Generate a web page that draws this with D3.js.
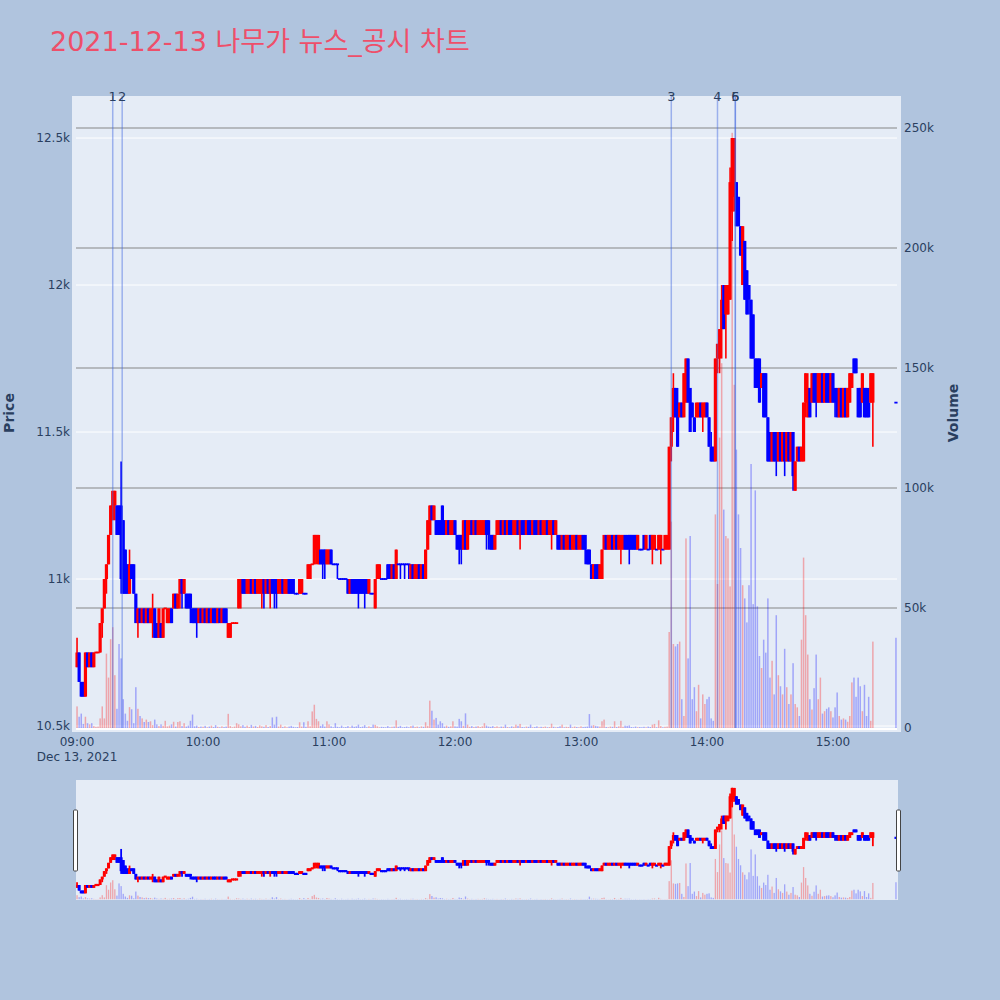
<!DOCTYPE html>
<html><head><meta charset="utf-8">
<script src="https://cdn.jsdelivr.net/npm/d3@7"></script>
<style>body{margin:0;background:#B0C4DE;} svg{display:block}</style>
</head><body><svg id="c" width="1000" height="1000"></svg>
<script>
// ---- data (1-minute candles 09:00..15:19, then 15:30 closing auction) ----
const sessionDate = "2021-12-13";
const sessionStart = "09:00:00";
const closingAuction = "15:30:00";
const open = [
10700,10750,10650,10650,10600,10750,10700,10750,10700,10750,
10750,10750,10850,10900,11000,11050,11150,11200,11250,11250,
11250,11250,11200,11100,11050,10950,11050,11050,10950,10850,
10900,10850,10900,10850,10900,10850,10850,10900,10850,10800,
10850,10800,10900,10850,10850,10900,10900,10950,10900,10950,
11000,10950,10950,10950,10950,10900,10900,10900,10850,10900,
10850,10900,10850,10900,10850,10900,10900,10850,10900,10850,
10900,10900,10800,10800,10850,10850,10850,10900,10950,11000,
11000,10950,10950,11000,10950,11000,10950,10950,10950,11000,
10950,11000,10950,11000,11000,11000,10950,10950,11000,10950,
10950,11000,11000,11000,10950,10950,10950,10950,10950,10950,
11000,11000,11050,11050,11100,11050,11100,11100,11100,11050,
11050,11100,11050,11050,11050,11000,11000,11000,11000,11000,
10950,11000,11000,11000,11000,11000,11000,11000,11000,10950,
10950,10950,10900,11000,11000,11000,11000,11000,11050,11050,
11000,11050,11000,11050,11050,11050,11050,11050,11050,11000,
11050,11000,11000,11050,11000,11050,11000,11100,11150,11250,
11200,11200,11200,11200,11250,11200,11150,11200,11150,11150,
11200,11150,11150,11150,11100,11200,11100,11150,11200,11150,
11200,11150,11150,11150,11150,11200,11200,11150,11150,11100,
11150,11150,11200,11150,11200,11150,11200,11200,11150,11150,
11200,11150,11200,11200,11150,11200,11200,11150,11200,11200,
11150,11200,11150,11150,11200,11150,11150,11200,11150,11150,
11150,11100,11150,11100,11100,11150,11100,11100,11150,11100,
11100,11150,11150,11100,11100,11050,11000,11050,11050,11000,
11000,11100,11150,11100,11100,11150,11100,11150,11100,11100,
11100,11150,11150,11150,11150,11150,11150,11100,11100,11100,
11150,11100,11100,11150,11100,11100,11100,11100,11100,11100,
11100,11100,11100,11450,11550,11650,11600,11550,11600,11550,
11600,11750,11650,11600,11550,11550,11550,11600,11550,11550,
11600,11550,11450,11450,11400,11750,11750,11850,12000,11900,
11900,11950,12250,12300,12350,12300,12200,12000,12150,12050,
12000,11950,11900,11750,11750,11750,11650,11700,11700,11550,
11500,11400,11500,11500,11400,11500,11400,11500,11400,11500,
11400,11500,11300,11400,11450,11400,11400,11600,11550,11650,
11600,11700,11700,11600,11600,11700,11600,11700,11700,11600,
11700,11650,11650,11550,11650,11550,11650,11550,11600,11650,
11750,11750,11650,11650,11600,11650,11650,11600,11600,11600,
11600];
const high = [
10800,10750,10650,10650,10750,10750,10750,10750,10750,10750,
10750,10850,10900,11000,11050,11150,11250,11300,11300,11250,
11250,11400,11200,11100,11050,11100,11050,11050,10950,10900,
10900,10900,10900,10900,10900,10900,10950,10900,10850,10900,
10850,10900,10900,10900,10900,10900,10950,10950,10950,11000,
11000,11000,10950,10950,10950,10900,10900,10900,10900,10900,
10900,10900,10900,10900,10900,10900,10900,10900,10900,10900,
10900,10900,10850,10850,10850,10850,10850,11000,11000,11000,
11000,11000,11000,11000,11000,11000,11000,11000,11000,11000,
11000,11000,11000,11000,11000,11000,11000,11000,11000,11000,
11000,11000,11000,11000,10950,10950,11000,11000,10950,10950,
11050,11050,11050,11150,11150,11150,11100,11100,11100,11100,
11100,11100,11050,11050,11050,11000,11000,11000,11000,11000,
11000,11000,11000,11000,11000,11000,11000,11000,11000,11000,
10950,10950,11000,11050,11050,11000,11000,11000,11050,11050,
11050,11050,11100,11050,11050,11050,11050,11050,11050,11050,
11050,11050,11050,11050,11050,11050,11100,11200,11250,11250,
11250,11200,11200,11200,11250,11200,11200,11200,11200,11200,
11200,11150,11150,11150,11200,11200,11200,11200,11200,11200,
11200,11200,11200,11200,11200,11200,11200,11150,11150,11150,
11200,11200,11200,11200,11200,11200,11200,11200,11200,11200,
11200,11200,11200,11200,11200,11200,11200,11200,11200,11200,
11200,11200,11200,11200,11200,11200,11200,11200,11200,11150,
11150,11150,11150,11150,11150,11150,11150,11150,11150,11150,
11150,11150,11150,11100,11100,11050,11050,11050,11050,11050,
11100,11150,11150,11150,11150,11150,11150,11150,11150,11150,
11150,11150,11150,11150,11150,11150,11150,11150,11100,11100,
11150,11150,11100,11150,11150,11150,11100,11150,11150,11100,
11150,11150,11450,11550,11700,11650,11650,11600,11600,11700,
11750,11750,11650,11600,11550,11600,11600,11600,11600,11600,
11600,11550,11500,11450,11750,11800,11850,12000,12000,12000,
12000,12400,12500,12500,12350,12300,12200,12200,12150,12050,
12000,11950,11900,11750,11750,11750,11700,11700,11700,11550,
11500,11500,11500,11500,11500,11500,11500,11500,11500,11500,
11500,11500,11400,11450,11450,11450,11600,11700,11700,11650,
11700,11700,11700,11700,11700,11700,11700,11700,11700,11700,
11700,11650,11650,11650,11650,11650,11650,11650,11700,11700,
11750,11750,11650,11650,11700,11650,11650,11650,11700,11700,
11600];
const low = [
10700,10650,10600,10600,10600,10700,10700,10700,10700,10750,
10750,10750,10800,10900,10950,11050,11150,11200,11200,11150,
11150,10950,10950,10950,10950,10950,11000,10950,10850,10800,
10850,10850,10850,10850,10850,10850,10800,10800,10800,10800,
10800,10800,10900,10850,10850,10850,10900,10900,10900,10900,
10900,10950,10900,10900,10850,10850,10850,10800,10850,10850,
10850,10850,10850,10850,10850,10850,10850,10850,10850,10850,
10850,10850,10800,10800,10850,10850,10850,10900,10900,10950,
10950,10950,10950,10950,10950,10950,10950,10950,10900,10900,
10950,10950,10900,10950,10900,10900,10950,10950,10950,10950,
10950,10950,10950,10950,10950,10950,10950,10950,10950,10950,
11000,11000,11050,11050,11050,11050,11050,11000,11000,11050,
11050,11050,11050,11050,11000,11000,11000,11000,11000,10950,
10950,10950,10950,10950,10900,10950,10950,10900,10950,10950,
10950,10950,10900,11000,11000,11000,11000,11000,11000,11000,
11000,11000,11000,11050,11000,11050,11000,11050,11000,11000,
11000,11000,11000,11000,11000,11000,11000,11100,11150,11200,
11200,11150,11150,11150,11150,11150,11150,11150,11150,11150,
11150,11100,11050,11050,11100,11100,11100,11150,11150,11150,
11150,11150,11150,11150,11150,11100,11100,11100,11100,11100,
11150,11150,11150,11150,11150,11150,11150,11150,11150,11150,
11150,11100,11150,11150,11150,11150,11150,11150,11150,11150,
11150,11150,11150,11150,11150,11150,11100,11150,11150,11100,
11100,11100,11100,11100,11100,11100,11100,11100,11100,11100,
11100,11100,11050,11050,11050,11000,11000,11000,11000,11000,
11000,11100,11100,11100,11100,11100,11100,11100,11100,11050,
11100,11100,11100,11050,11100,11100,11100,11100,11100,11100,
11100,11100,11100,11100,11050,11100,11100,11100,11050,11100,
11100,11100,11100,11400,11500,11550,11450,11550,11550,11550,
11600,11600,11500,11550,11500,11550,11550,11550,11500,11550,
11550,11450,11400,11400,11400,11700,11700,11750,11850,11750,
11900,11950,12150,12250,12200,12200,12100,12000,11950,11900,
11900,11750,11750,11650,11650,11600,11650,11550,11550,11400,
11400,11400,11400,11350,11400,11400,11400,11350,11400,11400,
11400,11300,11300,11400,11400,11400,11400,11550,11550,11550,
11600,11600,11550,11600,11600,11600,11600,11600,11600,11600,
11600,11550,11550,11550,11550,11550,11550,11550,11600,11650,
11700,11700,11550,11550,11600,11550,11550,11550,11600,11450,
11600];
const close = [
10750,10650,10600,10600,10750,10700,10750,10700,10750,10750,
10750,10850,10900,11000,11050,11150,11250,11300,11300,11150,
11150,11000,10950,10950,10950,11050,11000,10950,10850,10900,
10850,10900,10850,10900,10850,10900,10900,10800,10800,10900,
10800,10900,10900,10900,10900,10850,10950,10900,10950,11000,
10950,11000,10900,10900,10900,10850,10850,10850,10900,10850,
10900,10850,10900,10850,10900,10850,10850,10900,10850,10900,
10850,10850,10850,10850,10850,10850,10850,11000,11000,10950,
10950,11000,11000,10950,11000,10950,11000,11000,11000,10950,
11000,10950,11000,10950,10950,10950,11000,11000,10950,11000,
11000,10950,10950,10950,10950,10950,11000,11000,10950,10950,
11050,11050,11050,11150,11150,11150,11050,11050,11050,11100,
11100,11050,11050,11050,11050,11000,11000,11000,11000,10950,
11000,10950,10950,10950,10950,10950,10950,10950,10950,11000,
10950,10950,11000,11050,11050,11000,11000,11000,11000,11000,
11050,11000,11100,11050,11050,11050,11050,11050,11050,11050,
11000,11050,11050,11000,11050,11000,11100,11200,11250,11200,
11250,11150,11150,11150,11150,11150,11200,11150,11200,11200,
11150,11100,11100,11100,11200,11100,11200,11200,11150,11200,
11150,11200,11200,11200,11200,11150,11150,11100,11100,11150,
11200,11200,11150,11200,11150,11200,11150,11150,11200,11200,
11150,11200,11150,11150,11200,11150,11150,11200,11150,11150,
11200,11150,11200,11200,11150,11200,11200,11150,11200,11100,
11100,11150,11100,11150,11150,11100,11150,11150,11100,11150,
11150,11100,11100,11050,11050,11000,11050,11000,11000,11050,
11100,11150,11100,11150,11150,11100,11150,11100,11150,11150,
11150,11100,11100,11100,11100,11100,11100,11150,11100,11100,
11100,11150,11100,11100,11150,11150,11100,11150,11150,11100,
11150,11150,11450,11550,11650,11550,11450,11600,11550,11700,
11750,11600,11500,11550,11500,11600,11600,11550,11600,11600,
11550,11450,11400,11400,11750,11800,11850,11950,11850,12000,
12000,12350,12500,12500,12200,12200,12100,12200,11950,11900,
11950,11750,11750,11650,11650,11600,11700,11550,11550,11400,
11400,11500,11400,11400,11500,11400,11500,11400,11500,11400,
11500,11350,11400,11450,11400,11450,11600,11700,11650,11550,
11700,11600,11600,11700,11700,11600,11700,11600,11600,11700,
11600,11600,11550,11650,11550,11650,11550,11650,11700,11700,
11700,11700,11550,11550,11700,11550,11550,11550,11700,11700,
11600];
const volume = [
9000,4700,6000,1700,4700,2000,1500,2000,800,500,
600,4000,9000,4000,31000,21000,37000,42000,22000,8000,
35000,29000,12000,6000,3000,8700,7800,2000,17000,8000,
5000,4000,2500,3500,2500,2800,1200,3500,1500,800,
1500,900,3000,700,1000,1500,2600,600,2500,2800,
800,2000,600,1000,3000,5600,700,1000,400,600,
500,900,300,600,1000,400,1200,500,300,700,
400,600,5900,800,300,600,2000,1500,700,1200,
500,1000,400,1300,600,900,400,1100,700,500,
1200,400,800,4400,1400,4700,600,1400,400,700,
300,600,900,500,300,400,2400,600,2400,500,
2800,700,6900,9700,3800,2800,900,1500,600,2800,
1500,700,300,2000,500,300,1000,300,400,800,
300,1000,500,700,1400,400,600,1200,300,700,
400,1400,1300,700,300,500,400,300,800,300,
500,600,3200,500,900,300,400,600,300,800,
1000,400,600,300,700,500,2400,900,11400,7200,
3500,4200,1400,2800,2000,600,1000,500,700,2800,
700,600,3800,2800,900,6100,1400,500,800,400,
600,800,400,700,2000,1000,600,500,800,400,
700,300,600,500,1400,400,300,700,500,1400,
900,1700,400,300,600,500,1400,300,400,700,
300,500,400,600,300,400,1800,500,300,400,
700,1400,300,500,400,1400,300,600,400,300,
700,400,500,600,5800,1000,1200,900,700,600,
2800,3500,400,300,600,500,2800,400,700,3000,
500,1000,900,1100,400,300,600,300,400,300,
500,300,600,400,1400,1700,300,3200,800,300,
500,600,40000,86000,35000,34000,35000,36000,12000,5000,
79000,29000,80000,12000,17000,7000,18000,4000,14000,10000,
12000,13000,4000,3000,89000,60000,121000,152000,91000,80000,
79000,59000,248000,143000,116000,89000,75000,59500,54000,44000,
59500,110000,51600,99000,50700,30000,25000,36800,31400,54000,
21000,28000,14000,47000,22000,17400,14000,33000,17000,10000,
14000,27000,10000,8600,5000,36800,71000,47000,30600,12000,
7700,16600,30600,12000,21000,6000,7000,8000,8600,7000,
4400,8600,14800,5000,3500,4000,3500,2600,5000,19000,
21000,13000,21000,17400,7000,18000,5000,13000,3000,36000,
37600];
const newsTimes = ["09:17:00","09:21:30","13:43:00","14:05:00","14:13:30","14:13:30"];
const newsLabels = ["1","2","3","4","5","6"];
const priceTicks = [10500,11000,11500,12000,12500];
const priceTickLabels = ["10.5k","11k","11.5k","12k","12.5k"];
const volumeTicks = [0,50000,100000,150000,200000,250000];
const volumeTickLabels = ["0","50k","100k","150k","200k","250k"];
const timeTicks = ["09:00","10:00","11:00","12:00","13:00","14:00","15:00"];
const titleText = "2021-12-13 나무가 뉴스_공시 차트";

// ---- setup ----
const parse = d3.timeParse("%Y-%m-%d %H:%M:%S");
const T = s => parse(sessionDate + " " + s);
const t0 = T(sessionStart), tClose = T(closingAuction);
const n = open.length;
const times = open.map((_, i) => i < n - 1 ? d3.timeMinute.offset(t0, i) : tClose);

// direction: up red / down blue; flat follows previous close
let prevDir = 1;
const dir = close.map((c, i) => {
  let d;
  if (c > open[i]) d = 1; else if (c < open[i]) d = -1;
  else { const pc = i > 0 ? close[i-1] : c; d = c > pc ? 1 : (c < pc ? -1 : prevDir); }
  prevDir = d; return d;
});
const UP = "#ff0000", DOWN = "#0000ff";

const FONT = "'DejaVu Sans','Noto Sans CJK KR',sans-serif";
const TXT = "#2a3f5f";
const svg = d3.select("#c").style("font-family", FONT);
svg.append("rect").attr("width",1000).attr("height",1000).attr("fill","#B0C4DE");

const PL = 72, PR = 901, PT = 96, PB = 732;
const x = d3.scaleTime().domain([T("08:57:36"), T("15:32:24")]).range([PL, PR]);
const yP = d3.scaleLinear().domain([10479.6, 12643]).range([PB, PT]);
const yV = d3.scaleLinear().domain([-1667, 263333]).range([PB, PT]);

// title
svg.append("text").attr("x",50).attr("y",50.5).attr("font-size",27)
  .attr("fill","#ee4f6a").text(titleText);

// plot bg
svg.append("rect").attr("x",PL).attr("y",PT).attr("width",PR-PL).attr("height",PB-PT).attr("fill","#E5ECF6");
svg.append("clipPath").attr("id","clipMain").append("rect")
  .attr("x",PL).attr("y",PT).attr("width",PR-PL).attr("height",PB-PT);

const GL = 76, GR = 897;
// price grid (white)
svg.append("g").selectAll("line").data(priceTicks).join("line")
  .attr("x1",GL).attr("x2",GR).attr("y1",d=>yP(d)).attr("y2",d=>yP(d))
  .attr("stroke","#fff").attr("stroke-width",1);
// volume grid (gray)
svg.append("g").selectAll("line").data(volumeTicks.filter(v=>v>0)).join("line")
  .attr("x1",GL).attr("x2",GR).attr("y1",d=>yV(d)).attr("y2",d=>yV(d))
  .attr("stroke","#858585").attr("stroke-width",1.2);
// volume zero line
svg.append("line").attr("x1",GL).attr("x2",GR).attr("y1",yV(0)+1).attr("y2",yV(0)+1)
  .attr("stroke","#fff").attr("stroke-width",2);

function drawVolume(g, y, w) {
  g.selectAll("rect.v").data(times).join("rect").attr("class","v")
    .attr("x", (t)=> x(t) - w/2).attr("width", w)
    .attr("y", (t,i)=> y(volume[i]))
    .attr("height", (t,i)=> Math.max(0, y(0) - y(volume[i])))
    .attr("fill", (t,i)=> dir[i] > 0 ? UP : DOWN)
    .attr("fill-opacity", 0.3);
}
function drawCandles(g, y, bw, ww, minH) {
  const c = g.selectAll("g.c").data(times).join("g").attr("class","c");
  c.append("line")
    .attr("x1", t=>x(t)).attr("x2", t=>x(t))
    .attr("y1", (t,i)=>y(high[i])).attr("y2", (t,i)=>y(low[i]))
    .attr("stroke", (t,i)=> dir[i] > 0 ? UP : DOWN).attr("stroke-width", ww);
  c.append("rect")
    .attr("x", t=>x(t)-bw/2).attr("width", bw)
    .attr("y", (t,i)=> { const a=y(open[i]), b=y(close[i]); const h=Math.abs(a-b); return h<minH ? (a+b)/2-minH/2 : Math.min(a,b); })
    .attr("height", (t,i)=> Math.max(minH, Math.abs(y(open[i])-y(close[i]))))
    .attr("fill", (t,i)=> dir[i] > 0 ? UP : DOWN);
}

const main = svg.append("g").attr("clip-path","url(#clipMain)");
drawVolume(main.append("g"), yV, 1.5);
drawCandles(main.append("g"), yP, 3.2, 1.6, 1.8);

// news lines
const ng = svg.append("g");
ng.selectAll("line").data(newsTimes).join("line")
  .attr("x1", d=>x(T(d))).attr("x2", d=>x(T(d)))
  .attr("y1", PT).attr("y2", yV(0))
  .attr("stroke","#4169e1").attr("stroke-opacity",0.45).attr("stroke-width",1.5);
ng.selectAll("text").data(newsTimes).join("text")
  .attr("x", d=>x(T(d))).attr("y", 101).attr("text-anchor","middle")
  .attr("font-size",13).attr("fill",TXT).text((d,i)=>newsLabels[i]);

// axes labels
svg.append("g").selectAll("text").data(priceTicks).join("text")
  .attr("x",70).attr("y",d=>yP(d)).attr("dy","0.35em").attr("text-anchor","end")
  .attr("font-size",12).attr("fill",TXT).text((d,i)=>priceTickLabels[i]);
svg.append("g").selectAll("text").data(volumeTicks).join("text")
  .attr("x",904).attr("y",d=>yV(d)).attr("dy","0.35em").attr("text-anchor","start")
  .attr("font-size",12).attr("fill",TXT).text((d,i)=>volumeTickLabels[i]);
svg.append("g").selectAll("text").data(timeTicks).join("text")
  .attr("x",d=>x(T(d+":00"))).attr("y",746).attr("text-anchor","middle")
  .attr("font-size",12).attr("fill",TXT).text(d=>d);
svg.append("text").attr("x",x(T("09:00:00"))).attr("y",761).attr("text-anchor","middle")
  .attr("font-size",12).attr("fill",TXT).text("Dec 13, 2021");
svg.append("text").attr("transform","translate(14,413) rotate(-90)").attr("text-anchor","middle")
  .attr("font-size",14).attr("font-weight","bold").attr("fill",TXT).text("Price");
svg.append("text").attr("transform","translate(958,413) rotate(-90)").attr("text-anchor","middle")
  .attr("font-size",14).attr("font-weight","bold").attr("fill",TXT).text("Volume");

// range slider
const RL = 76, RR = 898, RT = 780, RB = 900;
svg.append("rect").attr("x",RL).attr("y",RT).attr("width",RR-RL).attr("height",RB-RT).attr("fill","#E5ECF6");
svg.append("clipPath").attr("id","clipRS").append("rect")
  .attr("x",RL).attr("y",RT).attr("width",RR-RL).attr("height",RB-RT);
const yPm = d3.scaleLinear().domain(yP.domain()).range([RB, RT]);
const yVm = d3.scaleLinear().domain(yV.domain()).range([RB, RT]);
const rs = svg.append("g").attr("clip-path","url(#clipRS)");
drawVolume(rs.append("g"), yVm, 1.3);
drawCandles(rs.append("g"), yPm, 3.0, 1.8, 2.2);
[RL-2.5, RR-1.5].forEach(hx => {
  svg.append("rect").attr("x",hx).attr("y",810).attr("width",4).attr("height",61)
    .attr("rx",1).attr("fill","#fff").attr("stroke","#444").attr("stroke-width",1);
});
</script></body></html>
